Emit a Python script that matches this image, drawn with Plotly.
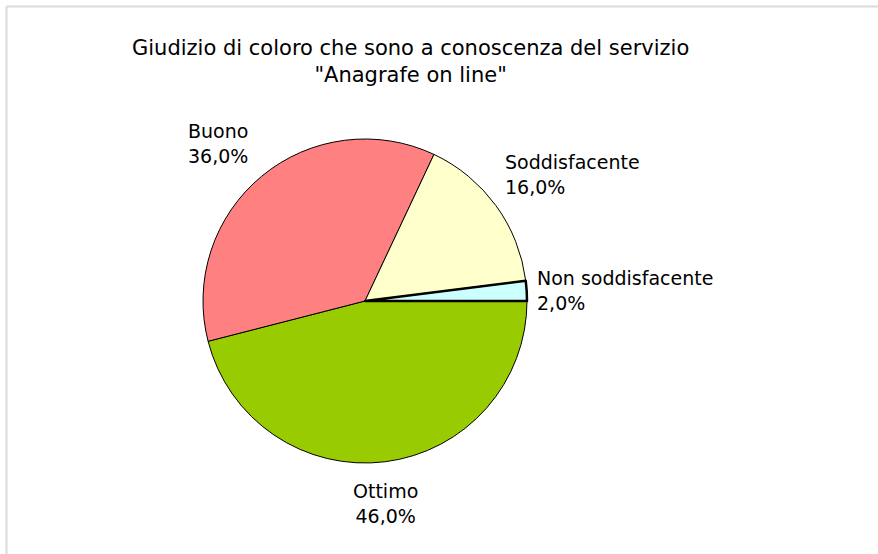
import plotly.graph_objects as go

# Survey answers: opinion of the "Anagrafe on line" service
categories = ["Non soddisfacente", "Soddisfacente", "Buono", "Ottimo"]
shares = [2.0, 16.0, 36.0, 46.0]
colors = ["#CCFFFF", "#FFFFCC", "#FF8080", "#99CC00"]
line_widths = [2.5, 1, 1, 1]

W, H = 878, 554
cx, cy, r = 365, 301, 162

# Slices run counter-clockwise from 3 o'clock; drawn clockwise in reverse order
fig = go.Figure(
    go.Pie(
        labels=categories[::-1],
        values=shares[::-1],
        sort=False,
        direction="clockwise",
        rotation=90,
        textinfo="none",
        hoverinfo="label+percent",
        marker=dict(colors=colors[::-1], line=dict(color="black", width=line_widths[::-1])),
        domain=dict(x=[(cx - r) / W, (cx + r) / W], y=[1 - (cy + r) / H, 1 - (cy - r) / H]),
        showlegend=False,
    )
)

label_font = dict(family="DejaVu Sans", size=19, color="black")
title_font = dict(family="DejaVu Sans", size=21, color="black")

# Outside labels: name and percentage, one per slice
label_pos = {
    "Buono": (186, 143, "left"),
    "Soddisfacente": (503, 174, "left"),
    "Non soddisfacente": (535, 290, "left"),
    "Ottimo": (385, 503, "center"),
}
annotations = []
for name, val in zip(categories, shares):
    x, y, align = label_pos[name]
    annotations.append(
        dict(
            x=x / W, y=1 - y / H, xref="paper", yref="paper",
            text=f"{name}<br>{val:.1f}%".replace(".", ","),
            showarrow=False, align=align,
            xanchor="left" if align == "left" else "center", yanchor="middle",
            font=label_font,
        )
    )

annotations.append(
    dict(
        x=410 / W, y=1 - 61.5 / H, xref="paper", yref="paper",
        text='Giudizio di coloro che sono a conoscenza del servizio<br>"Anagrafe on line"',
        showarrow=False, align="center", xanchor="center", yanchor="middle",
        font=title_font,
    )
)

# Light grey frame on the top and left edges
shapes = [
    dict(type="line", xref="paper", yref="paper", x0=6.5 / W, x1=1, y0=1 - 6.5 / H, y1=1 - 6.5 / H,
         line=dict(color="#DADADA", width=2)),
    dict(type="line", xref="paper", yref="paper", x0=6.5 / W, x1=6.5 / W, y0=0, y1=1 - 6.5 / H,
         line=dict(color="#DADADA", width=2)),
]

fig.update_layout(
    width=W, height=H,
    margin=dict(l=0, r=0, t=0, b=0),
    paper_bgcolor="white", plot_bgcolor="white",
    annotations=annotations, shapes=shapes,
)

fig.write_html("out.html")
